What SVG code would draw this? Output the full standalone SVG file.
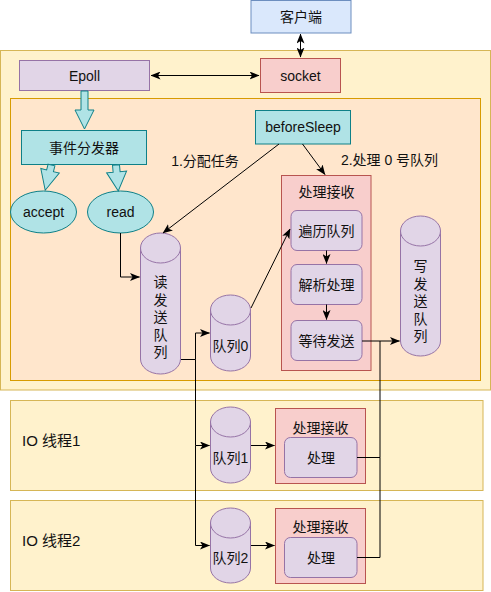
<svg xmlns="http://www.w3.org/2000/svg" width="491" height="592" viewBox="0 0 491 592">
<defs>
<style>
text{font-family:"Liberation Sans","Noto Sans CJK SC",sans-serif;font-size:14px;fill:#111;text-anchor:middle;dominant-baseline:central}
.yel{fill:#fff2cc;stroke:#d6b656}
.org{fill:#ffe6cc;stroke:#d79b00}
.pur{fill:#e1d5e7;stroke:#9673a6}
.red{fill:#f8cecc;stroke:#b85450}
.blu{fill:#dae8fc;stroke:#6c8ebf}
.tea{fill:#b0e3e6;stroke:#0e8088}
.ln{fill:none;stroke:#000;stroke-width:1}
.big{font-size:15px;text-anchor:start}
</style>
<marker id="ah" viewBox="0 0 10 8" refX="9.5" refY="4" markerWidth="10" markerHeight="8" markerUnits="userSpaceOnUse" orient="auto-start-reverse">
<path d="M0,0 L10,4 L0,8 L2.5,4 Z" fill="#000"/>
</marker>
</defs>

<g id="main-thread"><rect class="yel" x="0.5" y="50.5" width="490" height="339.5"/></g>
<g id="io-thread-1"><rect class="yel" x="10.5" y="400.5" width="472.5" height="90"/><text class="big" x="22" y="440">IO 线程1</text></g>
<g id="io-thread-2"><rect class="yel" x="10.5" y="500.5" width="472.5" height="90"/><text class="big" x="22" y="540">IO 线程2</text></g>
<g id="event-loop"><rect class="org" x="10.5" y="98.5" width="470" height="282"/></g>

<g id="client"><rect class="blu" x="251" y="0.5" width="100" height="32.5"/><text x="301" y="16.5">客户端</text></g>
<g id="epoll"><rect class="pur" x="19.5" y="60.5" width="130" height="30"/><text x="84.5" y="75.5">Epoll</text></g>
<g id="socket"><rect class="red" x="260.5" y="58.5" width="80" height="34"/><text x="300.5" y="75.5">socket</text></g>
<g id="dispatcher"><rect class="tea" x="21.5" y="130.5" width="125" height="34"/><text x="84" y="147.5">事件分发器</text></g>
<g id="beforeSleep"><rect class="tea" x="255.5" y="110.5" width="95" height="33.5"/><text x="303" y="127">beforeSleep</text></g>
<g id="accept"><ellipse class="tea" cx="43.5" cy="212" rx="33" ry="21"/><text x="43.5" y="212">accept</text></g>
<g id="read"><ellipse class="tea" cx="120.5" cy="212" rx="33" ry="21"/><text x="120.5" y="212">read</text></g>

<g id="read-queue">
<path class="pur" d="M140.5,248 A20,15 0 0 1 180.5,248 V359 A20,15 0 0 1 140.5,359 Z"/>
<path class="pur" d="M140.5,248 A20,15 0 0 0 180.5,248" fill="none"/>
<text x="160.5"><tspan x="160.5" y="282">读</tspan><tspan x="160.5" y="299.5">发</tspan><tspan x="160.5" y="317">送</tspan><tspan x="160.5" y="334.5">队</tspan><tspan x="160.5" y="352">列</tspan></text>
</g>
<g id="write-queue">
<path class="pur" d="M400.5,231 A20,15 0 0 1 440.5,231 V341 A20,15 0 0 1 400.5,341 Z"/>
<path class="pur" d="M400.5,231 A20,15 0 0 0 440.5,231" fill="none"/>
<text x="420.5"><tspan x="420.5" y="266">写</tspan><tspan x="420.5" y="283.5">发</tspan><tspan x="420.5" y="301">送</tspan><tspan x="420.5" y="318.5">队</tspan><tspan x="420.5" y="336">列</tspan></text>
</g>
<g id="queue0">
<path class="pur" d="M210.5,310 A20,15 0 0 1 250.5,310 V356 A20,15 0 0 1 210.5,356 Z"/>
<path class="pur" d="M210.5,310 A20,15 0 0 0 250.5,310" fill="none"/>
<text x="230.5" y="346">队列0</text>
</g>
<g id="queue1">
<path class="pur" d="M210.5,422 A20,15 0 0 1 250.5,422 V468 A20,15 0 0 1 210.5,468 Z"/>
<path class="pur" d="M210.5,422 A20,15 0 0 0 250.5,422" fill="none"/>
<text x="230.5" y="458">队列1</text>
</g>
<g id="queue2">
<path class="pur" d="M210.5,523 A20,15 0 0 1 250.5,523 V568 A20,15 0 0 1 210.5,568 Z"/>
<path class="pur" d="M210.5,523 A20,15 0 0 0 250.5,523" fill="none"/>
<text x="230.5" y="558">队列2</text>
</g>

<g id="main-receive">
<rect class="red" x="281.5" y="175.5" width="89.5" height="195"/>
<text x="326.5" y="192">处理接收</text>
</g>
<g id="traverse"><rect class="pur" x="291" y="210.5" width="71" height="40" rx="6"/><text x="326.5" y="230.5">遍历队列</text></g>
<g id="parse"><rect class="pur" x="291" y="264.5" width="71" height="40" rx="6"/><text x="326.5" y="284.5">解析处理</text></g>
<g id="wait-send"><rect class="pur" x="291" y="320.5" width="71" height="40" rx="6"/><text x="326.5" y="340.5">等待发送</text></g>

<g id="io1-receive"><rect class="red" x="275.5" y="408.5" width="90" height="75"/><text x="320.5" y="428">处理接收</text></g>
<g id="io1-process"><rect class="pur" x="284.5" y="437.5" width="72.5" height="40" rx="6"/><text x="321" y="457.5">处理</text></g>
<g id="io2-receive"><rect class="red" x="275.5" y="508.5" width="90" height="75"/><text x="320.5" y="527">处理接收</text></g>
<g id="io2-process"><rect class="pur" x="284.5" y="537.5" width="72.5" height="40" rx="6"/><text x="321" y="557.5">处理</text></g>

<g id="connectors">
<path class="ln" d="M300.5,34 V57" marker-start="url(#ah)" marker-end="url(#ah)"/>
<path class="ln" d="M151,75.5 H259" marker-start="url(#ah)" marker-end="url(#ah)"/>
<polygon class="tea" points="81,91 88,91 88,110 94,110 84.5,129 75,110 81,110"/>
<polygon class="tea" transform="translate(51.5,165) rotate(14)" points="-3.5,0 3.5,0 3.5,6 9.5,6 0,26 -9.5,6 -3.5,6"/>
<polygon class="tea" transform="translate(116,165) rotate(-5)" points="-3.5,0 3.5,0 3.5,7 10,7 0,26 -10,7 -3.5,7"/>
<path class="ln" d="M120.5,233 V277 H139.5" marker-end="url(#ah)"/>
<path class="ln" d="M279,144 L163,233" marker-end="url(#ah)"/>
<path class="ln" d="M302.5,144 L325,174.5" marker-end="url(#ah)"/>
<text x="205" y="160.5">1.分配任务</text>
<text x="389.5" y="159.5">2.处理 0 号队列</text>
<path class="ln" d="M326.5,250.5 V263.5" marker-end="url(#ah)"/>
<path class="ln" d="M326.5,304.5 V319.5" marker-end="url(#ah)"/>
<path class="ln" d="M251,308 L290,229" marker-end="url(#ah)"/>
<path class="ln" d="M181,359.5 H195.5 V333 H209.5" marker-end="url(#ah)"/>
<path class="ln" d="M195.5,359.5 V445.5 H209.5" marker-end="url(#ah)"/>
<path class="ln" d="M195.5,445.5 V545.5 H209.5" marker-end="url(#ah)"/>
<path class="ln" d="M251,445.5 H274.5" marker-end="url(#ah)"/>
<path class="ln" d="M251,545.5 H274.5" marker-end="url(#ah)"/>
<path class="ln" d="M362,341 H399.5" marker-end="url(#ah)"/>
<path class="ln" d="M357,457.5 H380 V341"/>
<path class="ln" d="M357,557.5 H380 V457.5"/>
</g>
</svg>
